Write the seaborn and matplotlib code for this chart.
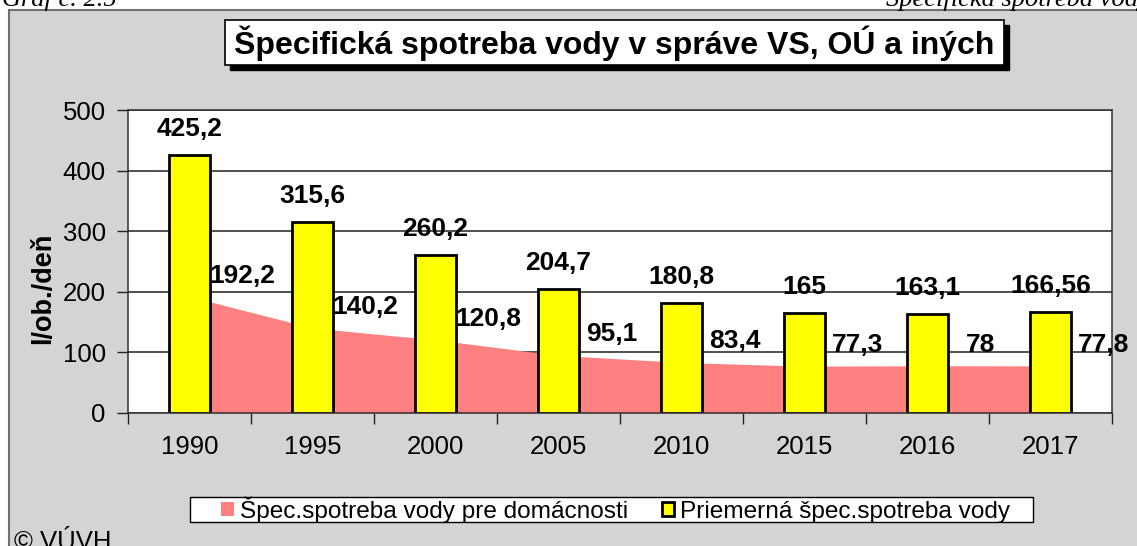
import numpy as np
import pandas as pd
import matplotlib
matplotlib.use("Agg")
import matplotlib.pyplot as plt
from matplotlib.patches import Rectangle, Patch
import seaborn as sns

# ---- data ----
years = ["1990", "1995", "2000", "2005", "2010", "2015", "2016", "2017"]
avg_consumption = [425.2, 315.6, 260.2, 204.7, 180.8, 165, 163.1, 166.56]
household_consumption = [192.2, 140.2, 120.8, 95.1, 83.4, 77.3, 78, 77.8]
y_ticks = [0, 100, 200, 300, 400, 500]

title_text = "Špecifická spotreba vody v správe VS, OÚ a iných"
ylabel_text = "l/ob./deň"
legend_household = "Špec.spotreba vody pre domácnosti"
legend_avg = "Priemerná špec.spotreba vody"

sns.set_theme(style="white")
plt.rcParams["font.family"] = ["Liberation Sans", "DejaVu Sans"]
plt.rcParams["text.color"] = "black"
plt.rcParams["axes.labelcolor"] = "black"
plt.rcParams["xtick.color"] = "black"
plt.rcParams["ytick.color"] = "black"

W, H = 1137, 546
fig = plt.figure(figsize=(W / 100, H / 100), dpi=100, facecolor="white")

def fx(px):
    return px / W

def fy(py):
    return 1 - py / H

# gray chart background with border
fig.patches.append(Rectangle((fx(8.5), -0.05), 1.2, fy(10) + 0.05,
                             transform=fig.transFigure, facecolor="#d4d4d4",
                             edgecolor="#707070", linewidth=1.5, zorder=-5))

# header texts (cut by the top edge)
fig.text(fx(2), fy(6), "Graf č. 2.5", family="Liberation Serif", style="italic",
         fontsize=19, ha="left", va="baseline")
fig.text(fx(1150), fy(6), "Špecifická spotreba vody", family="Liberation Serif",
         style="italic", fontsize=19, ha="right", va="baseline")

# title box with shadow
bx0, bx1, by0, by1 = 225, 1004, 20, 65
fig.patches.append(Rectangle((fx(bx0 + 5), fy(by1 + 5)), fx(bx1 - bx0), (by1 - by0) / H,
                             transform=fig.transFigure, facecolor="black",
                             edgecolor="black", zorder=1))
fig.patches.append(Rectangle((fx(bx0), fy(by1)), fx(bx1 - bx0), (by1 - by0) / H,
                             transform=fig.transFigure, facecolor="white",
                             edgecolor="black", linewidth=1.2, zorder=2))
fig.text(fx((bx0 + bx1) / 2), fy((by0 + by1) / 2 + 1), title_text, fontsize=23,
         fontweight="bold", ha="center", va="center", zorder=3)

# axes
ax = fig.add_axes([fx(128), fy(413), fx(1112 - 128), (413 - 110) / H])
ax.set_zorder(2)
ax.set_facecolor("white")
ax.set_axisbelow(True)

df = pd.DataFrame({"year": years, "avg": avg_consumption, "house": household_consumption})
xs = np.arange(len(years))

ax.fill_between(xs, df["house"], 0, color="#FF8080", linewidth=0, zorder=1)
sns.barplot(data=df, x="year", y="avg", order=years, color="#FFFF00",
            saturation=1, edgecolor="black", linewidth=2, width=0.333,
            ax=ax, zorder=2)

ax.set_xlim(-0.5, len(years) - 0.5)
ax.set_ylim(0, 500)
ax.set_yticks(y_ticks)
ax.set_yticklabels([str(t) for t in y_ticks])
ax.yaxis.grid(True, color="#202020", linewidth=1.1)
ax.xaxis.grid(False)

ax.set_xticks(xs)
ax.set_xticklabels(years)
ax.set_xticks(np.arange(len(years) + 1) - 0.5, minor=True)
ax.tick_params(axis="x", which="major", length=0, pad=16, labelsize=18.5, colors="black")
ax.tick_params(axis="x", which="minor", length=8, width=1, color="#202020", direction="out", bottom=True)
ax.tick_params(axis="y", which="major", length=8, width=1, color="#202020", direction="out",
               pad=8, labelsize=18.5, left=True, labelcolor="black")

for sp in ax.spines.values():
    sp.set_visible(True)
    sp.set_color("#303030")
    sp.set_linewidth(1.1)

ax.set_xlabel("")
ax.set_ylabel(ylabel_text, fontsize=19.5, fontweight="bold", va="center", ha="center")
ax.yaxis.set_label_coords((43 - 128) / 984, 0.411)

def fmt(v):
    return f"{v:g}".replace(".", ",")

for i, v in enumerate(avg_consumption):
    ax.annotate(fmt(v), xy=(i, v), xytext=(0, 26), textcoords="offset pixels",
                ha="center", va="center", fontsize=19, fontweight="bold", zorder=5)
for i, v in enumerate(household_consumption):
    ax.annotate(fmt(v), xy=(i, v), xytext=(53, 21), textcoords="offset pixels",
                ha="center", va="center", fontsize=19, fontweight="bold", zorder=5,
                annotation_clip=False)

# legend box
lx0, lx1, ly0, ly1 = 190, 1033, 497, 522
fig.patches.append(Rectangle((fx(lx0), fy(ly1)), fx(lx1 - lx0), (ly1 - ly0) / H,
                             transform=fig.transFigure, facecolor="white",
                             edgecolor="black", linewidth=1.0, zorder=1))
handles = [Patch(facecolor="#FF8080", edgecolor="none", label=legend_household),
           Patch(facecolor="#FFFF00", edgecolor="black", linewidth=2, label=legend_avg)]
leg = fig.legend(handles=handles, loc="center",
                 bbox_to_anchor=(fx(616), fy((ly0 + ly1) / 2)),
                 ncol=2, fontsize=17.6, frameon=False,
                 borderpad=0.0, handlelength=0.5, handleheight=0.55, handletextpad=0.25,
                 columnspacing=1.4, borderaxespad=0)
leg.set_zorder(3)

fig.text(fx(14), fy(549), "© VÚVH", fontsize=18.5, ha="left", va="baseline")

fig.savefig("out.png", dpi=100, facecolor=fig.get_facecolor())
